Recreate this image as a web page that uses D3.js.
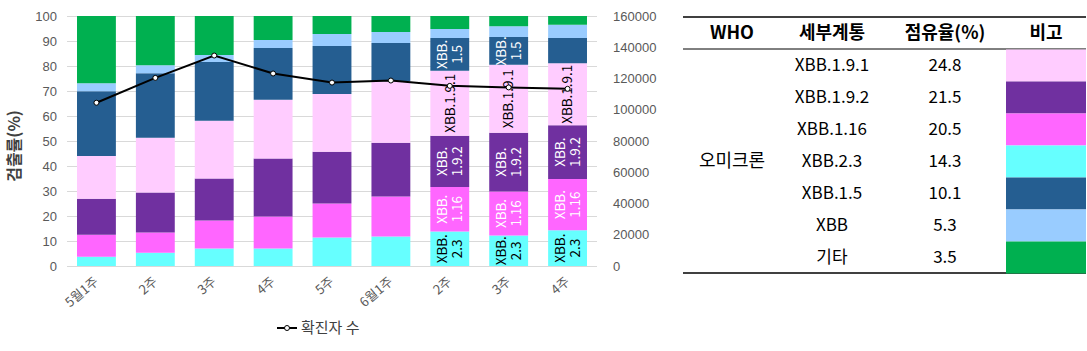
<!DOCTYPE html>
<html>
<head>
<meta charset="utf-8">
<script src="https://cdn.jsdelivr.net/npm/d3@7"></script>
<style>
  body { margin: 0; background: #fff; }
  svg { display: block; font-family: "Noto Sans CJK KR", "Noto Sans", sans-serif; }
</style>
</head>
<body>
<div id="chart"></div>
<script>
// weeks on the x axis
const weeks = ["5월1주", "2주", "3주", "4주", "5주", "6월1주", "2주", "3주", "4주"];

// stack order, bottom to top
const variants = ["XBB.2.3", "XBB.1.16", "XBB.1.9.2", "XBB.1.9.1", "XBB.1.5", "XBB", "기타"];
const colors = ["#66FFFF", "#FF66FF", "#7030A0", "#FFCCFF", "#255E91", "#99CCFF", "#00B050"];

// detection rate (%) per variant, one value per week
const xbb23  = [3.7, 5.3, 7.0, 7.0, 11.4, 11.8, 13.8, 12.2, 14.3];
const xbb116 = [8.8, 8.1, 11.2, 12.8, 13.6, 16.0, 17.8, 17.6, 20.5];
const xbb192 = [14.4, 16.0, 16.8, 23.2, 20.7, 21.5, 20.5, 23.5, 21.5];
const xbb191 = [17.1, 21.9, 23.1, 23.5, 23.1, 24.6, 26.0, 27.2, 24.8];
const xbb15  = [25.9, 25.8, 23.5, 20.7, 19.2, 15.3, 13.1, 11.1, 10.1];
const xbb    = [3.2, 3.2, 2.8, 3.2, 4.8, 4.4, 3.6, 4.3, 5.3];
const etc    = [26.9, 19.7, 15.6, 9.6, 7.2, 6.4, 5.2, 4.1, 3.5];

// confirmed cases per week (right axis)
const cases = [104500, 120400, 134700, 123200, 117400, 118700, 115300, 114300, 113400];

// which weeks carry an in-bar label, per variant
const labelWeeks = {
  "XBB.2.3": [6, 7, 8],
  "XBB.1.16": [6, 7, 8],
  "XBB.1.9.2": [6, 7, 8],
  "XBB.1.9.1": [6, 7, 8],
  "XBB.1.5": [6, 7]
};

// side table
const tableHeader = ["WHO", "세부계통", "점유율(%)", "비고"];
const tableGroup = "오미크론";
const tableNames = ["XBB.1.9.1", "XBB.1.9.2", "XBB.1.16", "XBB.2.3", "XBB.1.5", "XBB", "기타"];
const tableShares = ["24.8", "21.5", "20.5", "14.3", "10.1", "5.3", "3.5"];

const seriesValues = [xbb23, xbb116, xbb192, xbb191, xbb15, xbb, etc];
const colorOf = new Map(variants.map((v, i) => [v, colors[i]]));

const width = 1087;
const height = 351;
const marginLeft = 67, plotRight = 597, marginTop = 16, plotBottom = 266;

const rows = weeks.map((w, i) => {
  const r = { i: i };
  variants.forEach((v, k) => r[v] = seriesValues[k][i]);
  return r;
});

const x = d3.scaleBand().domain(d3.range(weeks.length)).range([marginLeft, plotRight]).paddingInner(0.34).paddingOuter(0.17);
const y = d3.scaleLinear().domain([0, 100]).range([plotBottom, marginTop]);
const y2 = d3.scaleLinear().domain([0, 160000]).range([plotBottom, marginTop]);

const svg = d3.select("#chart").append("svg")
  .attr("width", width)
  .attr("height", height);

// gridlines + left ticks
const gridG = svg.append("g");
gridG.selectAll("line")
  .data(y.ticks(10))
  .join("line")
  .attr("x1", marginLeft).attr("x2", plotRight)
  .attr("y1", d => Math.round(y(d)) + 0.5).attr("y2", d => Math.round(y(d)) + 0.5)
  .attr("stroke", "#d9d9d9");

svg.append("g")
  .attr("transform", `translate(${marginLeft - 10},0)`)
  .call(d3.axisLeft(y).ticks(10).tickSize(0).tickPadding(0))
  .call(g => g.select(".domain").remove())
  .call(g => g.selectAll("text").attr("fill", "#595959").attr("font-size", 13));

svg.append("g")
  .attr("transform", `translate(${plotRight + 16},0)`)
  .call(d3.axisRight(y2).ticks(8).tickSize(0).tickPadding(0).tickFormat(d3.format("d")))
  .call(g => g.select(".domain").remove())
  .call(g => g.selectAll("text").attr("fill", "#595959").attr("font-size", 13));

// stacked bars
const stack = d3.stack().keys(variants)(rows);
const layers = svg.append("g").selectAll("g")
  .data(stack)
  .join("g")
  .attr("fill", d => colorOf.get(d.key));

layers.selectAll("rect")
  .data(d => d)
  .join("rect")
  .attr("x", d => x(d.data.i))
  .attr("width", x.bandwidth())
  .attr("y", d => y(d[1]))
  .attr("height", d => y(d[0]) - y(d[1]));

// in-bar labels (rotated)
const darkKeys = new Set(["XBB.1.16", "XBB.1.9.2", "XBB.1.5"]);
const labelG = svg.append("g").attr("font-size", 13.5);
stack.forEach(layer => {
  const ws = labelWeeks[layer.key];
  if (!ws) return;
  ws.forEach(wi => {
    const d = layer[wi];
    const cx = x(wi) + x.bandwidth() / 2;
    const cy = (y(d[0]) + y(d[1])) / 2;
    const lines = layer.key === "XBB.1.9.1" ? [layer.key] : ["XBB.", layer.key.slice(4)];
    const t = labelG.append("text")
      .attr("transform", `translate(${cx},${cy}) rotate(-90)`)
      .attr("text-anchor", "middle")
      .attr("fill", darkKeys.has(layer.key) ? "#ffffff" : "#000000");
    const lh = 15;
    lines.forEach((s, j) => {
      t.append("tspan")
        .attr("x", 0)
        .attr("y", (j - (lines.length - 1) / 2) * lh)
        .attr("dy", "0.35em")
        .text(s);
    });
  });
});

// cases line
const line = d3.line()
  .x((d, i) => x(i) + x.bandwidth() / 2)
  .y(d => y2(d));

svg.append("path")
  .datum(cases)
  .attr("fill", "none")
  .attr("stroke", "#000")
  .attr("stroke-width", 2)
  .attr("d", line);

svg.append("g").selectAll("circle")
  .data(cases)
  .join("circle")
  .attr("cx", (d, i) => x(i) + x.bandwidth() / 2)
  .attr("cy", d => y2(d))
  .attr("r", 2.5)
  .attr("fill", "#fff")
  .attr("stroke", "#000")
  .attr("stroke-width", 1);

// x labels
svg.append("g").selectAll("text")
  .data(weeks)
  .join("text")
  .attr("transform", (d, i) => `translate(${x(i) + x.bandwidth() / 2 + 3},${plotBottom + 17}) rotate(-40)`)
  .attr("text-anchor", "end")
  .attr("fill", "#595959")
  .attr("font-size", 13)
  .text(d => d);

// y title
svg.append("text")
  .attr("transform", `translate(20,${(marginTop + plotBottom) / 2 + 5}) rotate(-90)`)
  .attr("text-anchor", "middle")
  .attr("font-size", 16)
  .attr("font-weight", "bold")
  .attr("fill", "#404040")
  .text("검출률(%)");

// legend
const lg = svg.append("g").attr("transform", "translate(277,328)");
lg.append("line").attr("x1", 0).attr("x2", 20).attr("stroke", "#000").attr("stroke-width", 2);
lg.append("circle").attr("cx", 10).attr("r", 2.5).attr("fill", "#fff").attr("stroke", "#000");
lg.append("text").attr("x", 24).attr("dy", "0.35em").attr("font-size", 15).attr("fill", "#404040").text("확진자 수");

// side table
const colX = [732, 832, 945, 1046];
const tLeft = 683, tRight = 1086, tTop = 17, headBottom = 49, rowH = 32;
const tab = svg.append("g").attr("fill", "#000");

tab.append("line").attr("x1", tLeft).attr("x2", tRight).attr("y1", tTop).attr("y2", tTop).attr("stroke", "#000").attr("stroke-width", 1.3);
tab.append("line").attr("x1", tLeft).attr("x2", tRight).attr("y1", headBottom).attr("y2", headBottom).attr("stroke", "#000").attr("stroke-width", 1);
tab.append("line").attr("x1", tLeft).attr("x2", tRight)
  .attr("y1", headBottom + rowH * tableNames.length).attr("y2", headBottom + rowH * tableNames.length)
  .attr("stroke", "#000").attr("stroke-width", 1.3);

tab.selectAll("text.head")
  .data(tableHeader)
  .join("text")
  .attr("class", "head")
  .attr("x", (d, i) => colX[i])
  .attr("y", (tTop + headBottom) / 2)
  .attr("dy", "0.35em")
  .attr("text-anchor", "middle")
  .attr("font-size", 18)
  .attr("font-weight", "bold")
  .text(d => d);

tab.selectAll("rect.sw")
  .data(tableNames)
  .join("rect")
  .attr("class", "sw")
  .attr("x", 1006)
  .attr("width", tRight - 1006)
  .attr("y", (d, i) => headBottom + 0.5 + i * rowH)
  .attr("height", rowH)
  .attr("fill", d => colorOf.get(d));

tab.selectAll("text.name")
  .data(tableNames)
  .join("text")
  .attr("class", "name")
  .attr("x", colX[1])
  .attr("y", (d, i) => headBottom + (i + 0.5) * rowH)
  .attr("dy", "0.35em")
  .attr("text-anchor", "middle")
  .attr("font-size", 17)
  .text(d => d);

tab.selectAll("text.share")
  .data(tableShares)
  .join("text")
  .attr("class", "share")
  .attr("x", colX[2])
  .attr("y", (d, i) => headBottom + (i + 0.5) * rowH)
  .attr("dy", "0.35em")
  .attr("text-anchor", "middle")
  .attr("font-size", 17)
  .text(d => d);

tab.append("text")
  .attr("x", colX[0])
  .attr("y", headBottom + rowH * tableNames.length / 2)
  .attr("dy", "0.35em")
  .attr("text-anchor", "middle")
  .attr("font-size", 18)
  .text(tableGroup);
</script>
</body>
</html>
